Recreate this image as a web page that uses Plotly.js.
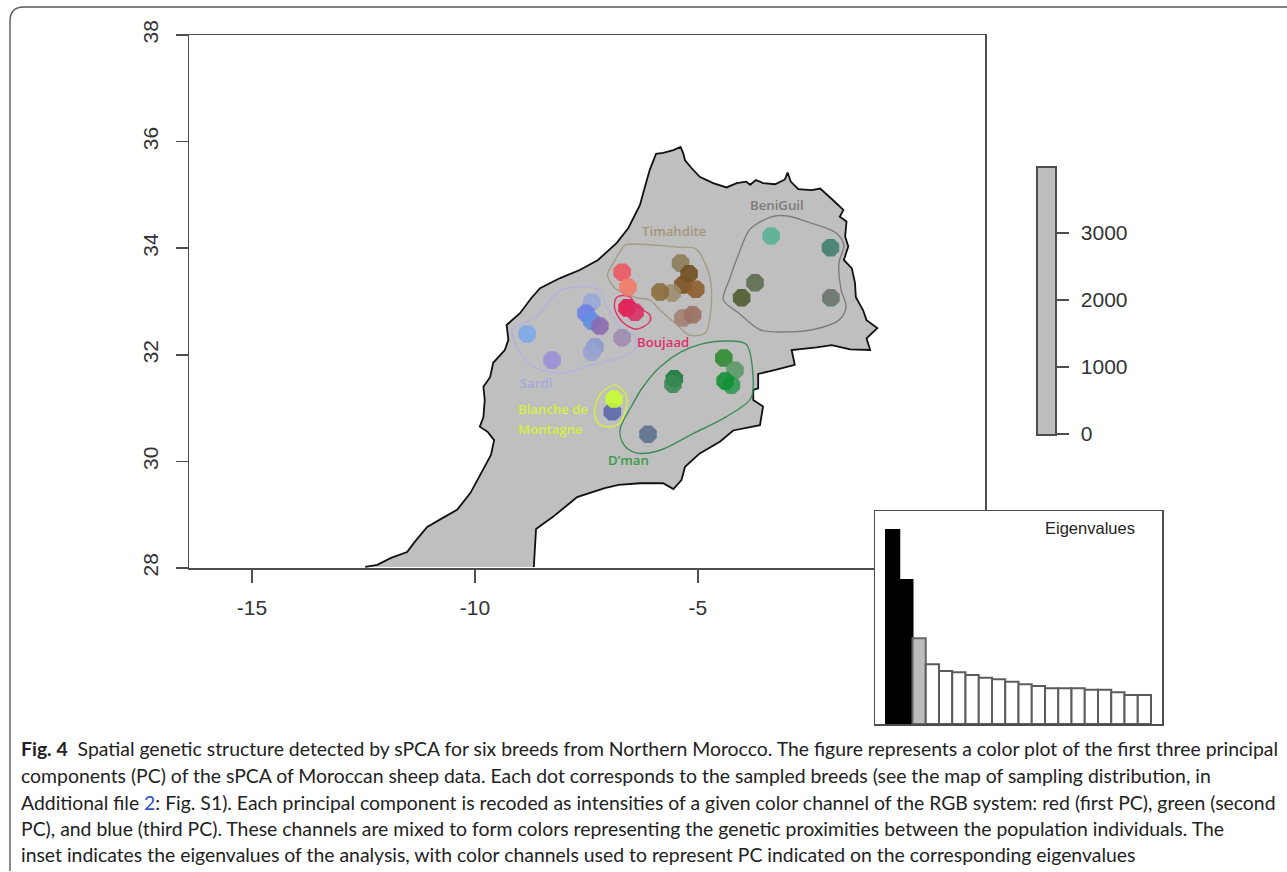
<!DOCTYPE html>
<html>
<head>
<meta charset="utf-8">
<script src="https://cdn.plot.ly/plotly-3.0.1.min.js"></script>
<style>html,body{margin:0;padding:0;background:#fff}#c{width:1287px;height:872px}</style>
</head>
<body>
<div id="c"></div>
<script>
var W = 1287, H = 872;

// Country outline (longitude, latitude)
var mapLon = [-12.46,-12.19,-11.88,-11.52,-11.35,-11.07,-10.72,-10.40,-10.10,-9.87,-9.64,-9.57,-9.71,-9.89,-9.81,-9.78,-9.81,-9.66,-9.59,-9.33,-9.25,-9.29,-8.99,-8.73,-8.54,-8.09,-7.65,-7.24,-6.82,-6.56,-6.30,-6.19,-6.08,-5.94,-5.78,-5.55,-5.39,-5.33,-5.29,-5.14,-4.96,-4.66,-4.36,-4.13,-3.92,-3.83,-3.70,-3.54,-3.27,-3.05,-2.99,-2.92,-2.75,-2.45,-2.26,-1.97,-1.74,-1.82,-1.67,-1.70,-1.63,-1.73,-1.55,-1.48,-1.46,-1.30,-1.22,-0.98,-1.22,-1.14,-1.59,-2.00,-2.34,-2.90,-2.83,-3.31,-3.65,-3.65,-3.76,-3.76,-3.54,-3.61,-4.21,-4.51,-4.96,-5.29,-5.37,-5.55,-5.78,-6.30,-6.78,-7.09,-7.40,-7.71,-7.87,-8.25,-8.63,-8.68];
var mapLat = [28.02,28.06,28.19,28.30,28.49,28.77,28.94,29.09,29.41,29.78,30.12,30.40,30.55,30.65,30.83,31.15,31.40,31.58,31.85,32.09,32.28,32.56,32.78,33.07,33.25,33.44,33.59,33.78,34.10,34.38,34.81,35.15,35.47,35.77,35.79,35.84,35.90,35.78,35.65,35.50,35.34,35.22,35.14,35.22,35.25,35.19,35.28,35.22,35.20,35.29,35.42,35.25,35.11,35.09,35.12,34.90,34.72,34.59,34.50,34.22,34.03,33.78,33.62,33.35,33.08,32.84,32.65,32.50,32.31,32.09,32.10,32.18,32.14,32.09,31.81,31.71,31.64,31.37,31.34,31.15,31.03,30.68,30.58,30.37,30.15,29.90,29.65,29.48,29.59,29.59,29.56,29.50,29.41,29.33,29.22,28.96,28.73,28.02];

// Sampled dots
var dotLon = [-3.36,-2.03,-2.02,-3.72,-4.02,-5.39,-5.20,-5.34,-5.05,-5.58,-5.85,-5.34,-5.12,-6.70,-6.57,-6.59,-6.41,-7.38,-7.51,-7.38,-7.20,-6.70,-8.83,-7.31,-7.38,-8.27,-4.42,-4.17,-4.25,-4.39,-5.53,-5.56,-6.12,-6.92,-6.88];
var dotLat = [34.23,34.01,33.07,33.35,33.07,33.72,33.52,33.31,33.23,33.16,33.18,32.69,32.75,33.55,33.27,32.88,32.80,32.99,32.78,32.63,32.54,32.32,32.39,32.15,32.05,31.90,31.94,31.71,31.43,31.51,31.55,31.45,30.51,30.93,31.17];
var dotColors = ['#57b195','#3f7e6c','#68736d','#5d6b4d','#4d5a2b','#8b7c58','#6e4c1e','#7a5020','#8a5c2a','#9c8c6a','#8a6a3a','#a08070','#9a7060','#ed5560','#f27a68','#e8104f','#d92c60','#96a8d8','#6a80e8','#5f90e0','#8a6ab0','#a08ab0','#7aaae8','#8a9ad0','#96a4d0','#9a90d8','#2c8a30','#5a9a68','#2e9a50','#0f9030','#157a35','#3a8855','#5a7090','#5a68a8','#c8ff30'];

// Breed contours
var timLon = [-6.63,-6.01,-5.47,-5.05,-4.78,-4.70,-4.73,-4.84,-5.20,-5.47,-5.85,-6.08,-6.39,-6.66,-6.86,-7.03,-6.90,-6.75,-6.63];
var timLat = [34.06,34.06,34.02,33.99,33.59,33.27,32.71,32.41,32.37,32.56,32.84,33.03,33.07,33.16,33.25,33.50,33.72,33.93,34.06];
var benLon = [-3.30,-2.96,-2.46,-1.91,-1.73,-1.84,-1.79,-1.68,-1.84,-2.38,-3.00,-3.61,-4.08,-4.43,-4.30,-4.08,-3.85,-3.61,-3.30];
var benLat = [34.60,34.60,34.47,34.29,34.06,33.72,33.22,32.90,32.65,32.48,32.43,32.47,32.78,33.03,33.40,33.91,34.34,34.49,34.60];
var bouLon = [-6.82,-6.55,-6.35,-6.08,-6.08,-6.39,-6.70,-6.87,-6.82];
var bouLat = [33.08,33.10,32.90,32.75,32.62,32.48,32.62,32.88,33.08];
var sarLon = [-8.02,-7.24,-7.05,-6.70,-6.39,-6.43,-6.70,-7.40,-8.02,-8.63,-8.98,-9.13,-9.16,-8.63,-8.25,-8.02];
var sarLat = [33.23,33.23,32.90,32.50,32.32,32.09,31.96,31.81,31.66,31.75,32.03,32.28,32.47,32.71,33.08,33.23];
var dmaLon = [-4.93,-4.38,-3.92,-3.77,-3.81,-4.38,-5.09,-5.85,-6.39,-6.66,-6.75,-6.50,-6.23,-5.85,-5.39,-4.93];
var dmaLat = [32.20,32.26,32.20,31.66,31.19,30.83,30.53,30.21,30.16,30.31,30.59,31.02,31.40,31.77,32.05,32.20];
var blaLon = [-6.86,-6.63,-6.59,-6.75,-7.02,-7.24,-7.32,-7.17,-6.86];
var blaLat = [31.43,31.28,31.10,30.72,30.65,30.72,30.96,31.28,31.43];

// Breed labels
var labelTexts = ['BeniGuil','Timahdite','Boujaad','Sardi','Blanche de','Montagne','D\u2019man'];
var labelLon = [-3.23,-5.54,-5.78,-8.63,-8.25,-8.31,-6.55];
var labelLat = [34.81,34.32,32.24,31.47,30.98,30.61,30.03];
var labelColors = ['#7b7b7b','#a09878','#e0306a','#a8a8dc','#d4f040','#d4f040','#3a9a4a'];

// Eigenvalue inset
var eigRank = [1,2,3,4,5,6,7,8,9,10,11,12,13,14,15,16,17,18,19,20];
var eigValues = [194,144,85.7,59.7,53,51.7,49,46.3,44.7,42.3,39.7,38,35.7,35.7,35.7,34.3,34.3,31.7,29,29];
var eigColors = ['#000','#000','#bdbdbd'].concat(eigRank.slice(3).map(function(){return '#fff';}));
var eigLines = ['#000','#000','#666'].concat(eigRank.slice(3).map(function(){return '#5c5c5c';}));

// Scale bar
var scaleMax = [3970];
var scaleTicks = [0,1000,2000,3000];

// Axis ticks
var lonTicks = [-15,-10,-5];
var latTicks = [28,30,32,34,36,38];

// Caption
var captionLines = [
 '<b>Fig. 4</b>  Spatial genetic structure detected by sPCA for six breeds from Northern Morocco. The figure represents a color plot of the first three principal',
 'components (PC) of the sPCA of Moroccan sheep data. Each dot corresponds to the sampled breeds (see the map of sampling distribution, in',
 'Additional file <span style="color:#2b4fc4">2</span>: Fig. S1). Each principal component is recoded as intensities of a given color channel of the RGB system: red (first PC), green (second',
 'PC), and blue (third PC). These channels are mixed to form colors representing the genetic proximities between the population individuals. The',
 'inset indicates the eigenvalues of the analysis, with color channels used to represent PC indicated on the corresponding eigenvalues'
];
var captionY = [748,775,802,828,854];

function domX(a,b){return [a/W,b/W];}
function domY(top,bottom){return [(H-bottom)/H,(H-top)/H];}
function px(x){return (x/W).toFixed(5);}
function py(y){return ((H-y)/H).toFixed(5);}

function contour(lon,lat,color){
  return {type:'scatter',mode:'lines',x:lon,y:lat,xaxis:'x',yaxis:'y',hoverinfo:'skip',
    line:{color:color,width:1.4,shape:'spline',smoothing:0.9}};
}

var AXC = '#4d4d4d';
var data = [
  {type:'scatter',mode:'lines',x:mapLon,y:mapLat,xaxis:'x',yaxis:'y',fill:'toself',fillcolor:'#bfbfbf',
   line:{color:'#111',width:1.8},hoverinfo:'skip'},
  contour(timLon,timLat,'#a39c86'),
  contour(benLon,benLat,'#7d7d7d'),
  contour(sarLon,sarLat,'#b2b2e0'),
  contour(dmaLon,dmaLat,'#3c8a5c'),
  contour(blaLon,blaLat,'#d8f040'),
  contour(bouLon,bouLat,'#e0306a'),
  {type:'scatter',mode:'markers',x:dotLon,y:dotLat,xaxis:'x',yaxis:'y',hoverinfo:'skip',
   marker:{symbol:'octagon',size:19,color:dotColors,opacity:0.88,line:{width:0}}},
  {type:'bar',x:eigRank,y:eigValues,xaxis:'x2',yaxis:'y2',hoverinfo:'skip',cliponaxis:false,
   marker:{color:eigColors,line:{color:eigLines,width:2}}},
  {type:'bar',x:[0],y:scaleMax,width:[1],xaxis:'x3',yaxis:'y3',hoverinfo:'skip',
   marker:{color:'#bdbdbd',line:{width:0}}}
];

var tf = {family:'"Liberation Sans",Arial,sans-serif',size:21,color:'#333'};
var annotations = labelTexts.map(function(t,i){
  return {text:t,x:labelLon[i],y:labelLat[i],xref:'x',yref:'y',showarrow:false,xanchor:'center',yanchor:'middle',
    font:{family:'"Open Sans",sans-serif',size:13.2,color:labelColors[i],weight:600}};
});
annotations.push({text:'Eigenvalues',xref:'paper',yref:'paper',x:1090/W,y:(H-528)/H,xanchor:'center',yanchor:'middle',showarrow:false,
  font:{family:'"Liberation Sans",Arial,sans-serif',size:16.5,color:'#222'}});
captionLines.forEach(function(t,i){
  annotations.push({text:t,xref:'paper',yref:'paper',x:19/W,y:(H-captionY[i])/H,xanchor:'left',yanchor:'middle',
    showarrow:false,align:'left',font:{family:'Lato,sans-serif',size:19.4,color:'#222'}});
});

var framePath = 'M '+px(1287)+' '+py(7)+' L '+px(24)+' '+py(7)+' Q '+px(10)+' '+py(7)+' '+px(10)+' '+py(21)+' L '+px(10)+' '+py(871);

var layout = {
  width:W,height:H,margin:{l:0,r:0,t:0,b:0},showlegend:false,paper_bgcolor:'#fff',plot_bgcolor:'#fff',
  bargap:0,
  xaxis:{domain:domX(189,985),range:[-16.41,1.435],tickvals:lonTicks,ticktext:lonTicks.map(String),ticks:'outside',ticklen:13,tickwidth:1.5,tickcolor:AXC,
    showline:true,linecolor:AXC,linewidth:1.5,mirror:true,showgrid:false,zeroline:false,tickfont:tf,ticklabelstandoff:7,anchor:'y'},
  yaxis:{domain:domY(35,568),range:[28,38],tickvals:latTicks,ticks:'outside',ticklen:12,tickwidth:1.5,tickcolor:AXC,tickangle:-90,
    showline:true,linecolor:AXC,linewidth:1.5,mirror:true,showgrid:false,zeroline:false,tickfont:tf,ticklabelstandoff:9,anchor:'x'},
  xaxis2:{domain:domX(875,1162),range:[-0.33,21.33],showticklabels:false,ticks:'',showline:true,linecolor:AXC,linewidth:1.5,mirror:true,showgrid:false,zeroline:false,anchor:'y2'},
  yaxis2:{domain:domY(511,724),range:[0,213],showticklabels:false,ticks:'',showline:true,linecolor:AXC,linewidth:1.5,mirror:true,showgrid:false,zeroline:false,anchor:'x2'},
  xaxis3:{domain:domX(1038,1055),range:[-0.5,0.5],showticklabels:false,ticks:'',showline:true,linecolor:AXC,linewidth:1.6,mirror:true,showgrid:false,zeroline:false,anchor:'y3'},
  yaxis3:{domain:domY(168,434),range:[0,3970],side:'right',tickvals:scaleTicks,ticks:'outside',ticklen:12,tickwidth:1.5,tickcolor:AXC,
    showline:true,linecolor:AXC,linewidth:1.6,mirror:true,showgrid:false,zeroline:false,tickfont:tf,ticklabelstandoff:8,anchor:'x3'},
  annotations:annotations,
  shapes:[{type:'path',xref:'paper',yref:'paper',path:framePath,line:{color:'#5a5a5a',width:1.4}}]
};
Plotly.newPlot('c',data,layout,{displayModeBar:false,staticPlot:true});
</script>
</body>
</html>
